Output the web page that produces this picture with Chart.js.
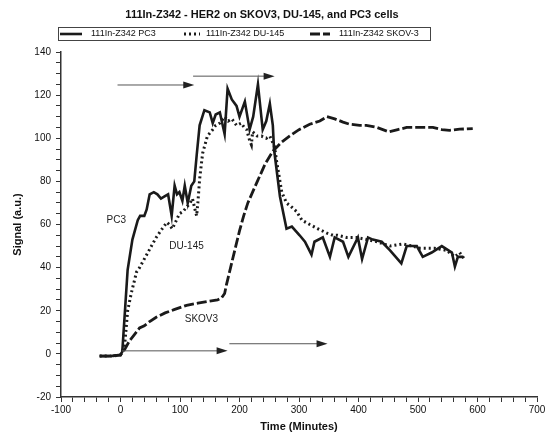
<!DOCTYPE html>
<html>
<head>
<meta charset="utf-8">
<script src="https://cdn.jsdelivr.net/npm/chart.js@4.4.0/dist/chart.umd.min.js"></script>
<style>
  body { margin: 0; background: #fff; }
  #wrap { width: 548px; height: 434px; }
</style>
</head>
<body>
<div id="wrap"><canvas id="myChart" width="548" height="434"></canvas></div>
<script>
// values
const chartTitle = "111In-Z342 - HER2 on SKOV3, DU-145, and PC3 cells";
const seriesLabels = ["111In-Z342 PC3", "111In-Z342 DU-145", "111In-Z342 SKOV-3"];

const pc3Time = [-35, -15, 0, 3, 8, 12, 20, 29, 33, 40, 44, 49, 56, 62, 68, 74, 80, 86, 91, 95, 99, 104, 108, 113, 119, 124, 128, 133, 141, 150, 155, 160, 167, 175, 180, 187, 195, 200, 209, 217, 223, 231, 239, 245, 251, 256, 258, 268, 279, 288, 301, 310, 321, 326, 340, 352, 360, 374, 383, 399, 406, 416, 424, 439, 453, 472, 481, 498, 508, 523, 540, 557, 562, 567, 576];
const pc3Signal = [-1, -1, -0.5, 1, 22, 39, 53, 62, 64, 64, 67, 74, 75, 74, 72, 73, 74, 64, 78, 74, 75, 71, 78, 70, 78, 80, 92, 106, 113, 112, 107, 111, 112, 102, 123, 118, 115, 110, 117, 104, 110, 125, 104, 108, 116, 106, 95, 73, 58, 59, 55, 52, 46, 52, 54, 45, 54, 52, 45, 54, 44, 54, 53, 52, 48, 42, 50, 50, 45, 47, 50, 47, 40.5, 45, 45];

const duTime = [-35, -15, 0, 4, 7, 12, 18, 27, 32, 44, 52, 60, 70, 78, 82, 87, 94, 99, 105, 111, 117, 121, 126, 128, 130, 133, 138, 146, 155, 160, 167, 175, 181, 187, 195, 203, 208, 212, 217, 220, 222, 230, 237, 245, 251, 259, 262, 271, 279, 288, 296, 305, 318, 332, 347, 357, 365, 380, 397, 414, 431, 453, 475, 490, 503, 528, 548, 562, 570, 578];
const duSignal = [-1, -1, -0.5, 2, 4, 20, 28, 38, 40, 46, 50, 54, 58, 61, 60, 58, 62, 65, 66, 68, 70, 72, 66, 64, 70, 81, 93, 101, 104, 106, 107, 110, 108, 109, 106, 107, 105, 104, 99, 97, 103, 101, 101, 100, 101, 96, 90, 75, 70, 68, 66, 62, 60, 58, 56, 55, 55, 54, 54, 53, 52, 50, 51, 50, 49, 49, 48, 45, 47, 44];

const skovTime = [-35, -15, 0, 7, 15, 25, 32, 40, 49, 60, 75, 90, 111, 130, 150, 163, 170, 175, 178, 185, 192, 200, 207, 214, 222, 230, 243, 256, 270, 284, 300, 318, 335, 347, 360, 374, 385, 402, 413, 431, 451, 466, 481, 500, 525, 540, 553, 570, 592];
const skovSignal = [-1, -1, -0.5, 2, 6, 9.5, 12, 13, 15, 17, 19, 20.5, 22.5, 23.5, 24.5, 25, 26, 28, 32, 40, 48, 57, 64, 70, 75, 80, 88, 94, 98, 101, 104, 106.5, 108, 110, 109, 107.5, 106.5, 106, 106, 105, 103, 104, 105, 105, 105, 104, 103.7, 104.2, 104.5];

// text and arrows drawn on the plot
const curveNames = ["PC3", "DU-145", "SKOV3"];
const curveNameX = [-7, 111, 136];
const curveNameY = [62, 50, 16];
const arrowFrom = [-5, 122, 2, 183];
const arrowTo = [124, 259, 180, 348];
const arrowY = [124.7, 128.8, 1.4, 4.7];

const FONT = "'Liberation Sans', Arial, sans-serif";

function toPoints(xs, ys) {
  return xs.map((t, i) => ({ x: t, y: ys[i] }));
}

const headerPlugin = {
  id: "header",
  afterDraw(chart) {
    const ctx = chart.ctx;
    ctx.save();
    ctx.fillStyle = "#111";
    ctx.font = "bold 11px " + FONT;
    ctx.textAlign = "center";
    ctx.textBaseline = "middle";
    ctx.fillText(chartTitle, 262, 15);

    // legend box
    ctx.strokeStyle = "#444";
    ctx.lineWidth = 1;
    ctx.strokeRect(58.5, 27.5, 372, 13);
    const lineStart = [60, 184, 310];
    const lineLen = [22, 16, 20];
    const textStart = [91, 206, 339];
    ctx.font = "9px " + FONT;
    ctx.textAlign = "left";
    chart.data.datasets.forEach((ds, i) => {
      ctx.setLineDash(ds.borderDash || []);
      ctx.lineWidth = ds.borderWidth;
      ctx.strokeStyle = ds.borderColor;
      ctx.beginPath();
      ctx.moveTo(lineStart[i], 34);
      ctx.lineTo(lineStart[i] + lineLen[i], 34);
      ctx.stroke();
      ctx.setLineDash([]);
      ctx.fillText(ds.label, textStart[i], 34);
    });
    ctx.restore();
  },
};

const notesPlugin = {
  id: "notes",
  afterDatasetsDraw(chart) {
    const ctx = chart.ctx;
    const xs = chart.scales.x;
    const ys = chart.scales.y;
    ctx.save();
    ctx.strokeStyle = "#555";
    ctx.fillStyle = "#222";
    ctx.lineWidth = 1;
    arrowFrom.forEach((from, i) => {
      const x0 = xs.getPixelForValue(from);
      const x1 = xs.getPixelForValue(arrowTo[i]);
      const py = ys.getPixelForValue(arrowY[i]);
      ctx.beginPath();
      ctx.moveTo(x0, py);
      ctx.lineTo(x1 - 8, py);
      ctx.stroke();
      ctx.beginPath();
      ctx.moveTo(x1, py);
      ctx.lineTo(x1 - 11, py - 3.5);
      ctx.lineTo(x1 - 11, py + 3.5);
      ctx.closePath();
      ctx.fill();
    });
    ctx.font = "10px " + FONT;
    ctx.textAlign = "center";
    ctx.textBaseline = "middle";
    curveNames.forEach((name, i) => {
      ctx.fillText(name, xs.getPixelForValue(curveNameX[i]), ys.getPixelForValue(curveNameY[i]));
    });
    ctx.restore();
  },
};

const data = {
  datasets: [
    {
      label: seriesLabels[0],
      data: toPoints(pc3Time, pc3Signal),
      borderColor: "#1a1a1a",
      borderWidth: 2.6,
      borderDash: [],
      order: 0,
    },
    {
      label: seriesLabels[1],
      data: toPoints(duTime, duSignal),
      borderColor: "#1a1a1a",
      borderWidth: 3,
      borderDash: [2, 3],
      order: 1,
    },
    {
      label: seriesLabels[2],
      data: toPoints(skovTime, skovSignal),
      borderColor: "#1a1a1a",
      borderWidth: 2.8,
      borderDash: [10, 3],
      order: 2,
    },
  ],
};

const config = {
  type: "line",
  data: data,
  options: {
    responsive: false,
    animation: false,
    devicePixelRatio: 1,
    layout: { padding: { top: 52, right: 11, bottom: 0, left: 0 } },
    elements: {
      point: { radius: 0 },
      line: { tension: 0, fill: false },
    },
    plugins: {
      legend: { display: false },
      title: { display: false },
      tooltip: { enabled: false },
    },
    scales: {
      x: {
        type: "linear",
        min: -100,
        max: 700,
        afterFit: (scale) => { scale.height = 37; },
        ticks: {
          stepSize: 20,
          autoSkip: false,
          maxRotation: 0,
          padding: 2,
          color: "#111",
          font: { family: FONT, size: 10 },
          callback: (v) => (v % 100 === 0 ? v : ""),
        },
        grid: {
          drawOnChartArea: false,
          drawTicks: true,
          tickLength: 5,
          tickColor: "#333",
        },
        border: { display: true, color: "#333", width: 1.5 },
        title: {
          display: true,
          text: "Time (Minutes)",
          color: "#111",
          padding: 0,
          font: { family: FONT, size: 11, weight: "bold" },
        },
      },
      y: {
        type: "linear",
        min: -20,
        max: 140,
        afterFit: (scale) => { scale.width = 61; },
        ticks: {
          stepSize: 5,
          autoSkip: false,
          padding: 5,
          color: "#111",
          font: { family: FONT, size: 10 },
          callback: (v) => (v % 20 === 0 ? v : ""),
        },
        grid: {
          drawOnChartArea: false,
          drawTicks: true,
          tickLength: 5,
          tickColor: "#333",
        },
        border: { display: true, color: "#333", width: 1.5 },
        title: {
          display: true,
          text: "Signal (a.u.)",
          color: "#111",
          padding: 11,
          font: { family: FONT, size: 11, weight: "bold" },
        },
      },
    },
  },
  plugins: [headerPlugin, notesPlugin],
};

const myChart = new Chart(document.getElementById("myChart"), config);
</script>
</body>
</html>
